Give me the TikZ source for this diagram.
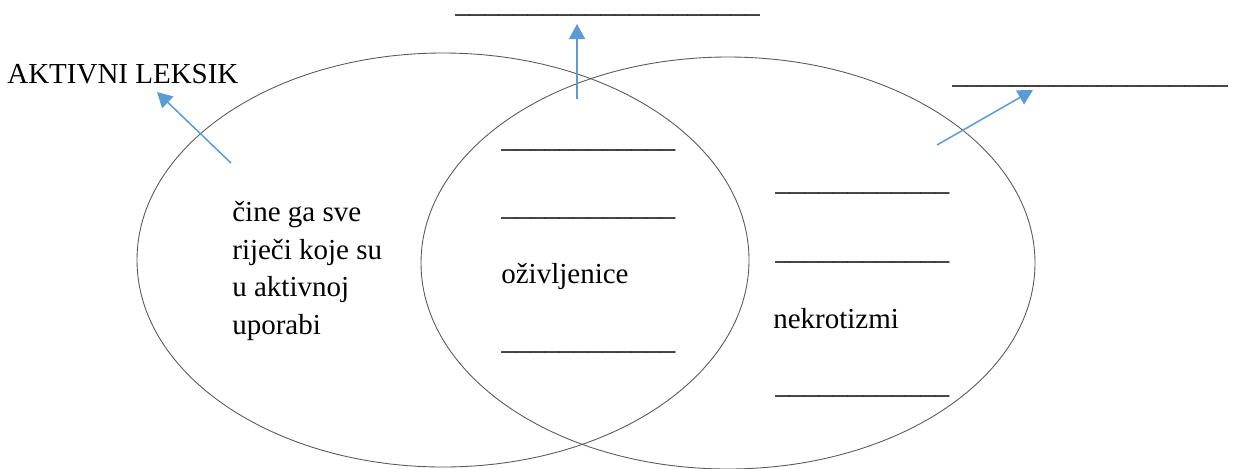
\documentclass[tikz,border=0pt]{standalone}
\usepackage{fontspec}
\setmainfont{Liberation Serif}
\usepackage{xcolor}
\usepackage{tikz}
\usetikzlibrary{arrows.meta,positioning,calc}
\definecolor{vennline}{HTML}{595959}
\definecolor{vennblue}{HTML}{5B9BD5}
\newcommand{\praznina}[1]{\foreach \k in {1,...,#1}{\textunderscore}}

\begin{document}
\begin{tikzpicture}[x=0.02cm, y=-0.02cm,
        krug/.style={draw=vennline, line width=0.5pt},
        strelica/.style={draw=vennblue, line width=0.85pt, -{Triangle[length=3mm, width=3.2mm]}},
        tekst/.style={inner sep=0pt, anchor=base west, font=\fontsize{16.5}{21.3}\selectfont}]
        \useasboundingbox (0,0) rectangle (1237,468);
        \draw[krug] (443,260) ellipse [x radius=306, y radius=207];
        \draw[krug] (728,263) ellipse [x radius=307, y radius=206];

        \node[tekst] (aktivni) at (7,83) {AKTIVNI LEKSIK};
        \node[tekst, align=left] (opis) at (232,334) {čine ga sve\\riječi koje su\\u aktivnoj\\uporabi};
        \node[tekst] (gore) at (455,12) {\praznina{21}};
        \node[tekst] (desno) at (952,83) {\praznina{19}};

        \node[tekst] (sred1) at (501,147) {\praznina{12}};
        \node[tekst] (sred2) at (501,215) {\praznina{12}};
        \node[tekst] (ozivljenice) at (501,283) {oživljenice};
        \node[tekst] (sred3) at (501,349) {\praznina{12}};

        \node[tekst] (nek1) at (775,190) {\praznina{12}};
        \node[tekst] (nek2) at (775,259) {\praznina{12}};
        \node[tekst] (nekrotizmi) at (773,328) {nekrotizmi};
        \node[tekst] (nek3) at (775,393) {\praznina{12}};

        \coordinate (rep1) at (231,163);
        \coordinate (vrh1) at (157,92);
        \coordinate (rep2) at (577,99);
        \coordinate (vrh2) at (577,24);
        \coordinate (rep3) at (937,145);
        \coordinate (vrh3) at (1033,90);
        \draw[strelica] (rep1) -- (vrh1);
        \draw[strelica] (rep2) -- (vrh2);
        \draw[strelica] (rep3) -- (vrh3);
    \end{tikzpicture}
\end{document}
